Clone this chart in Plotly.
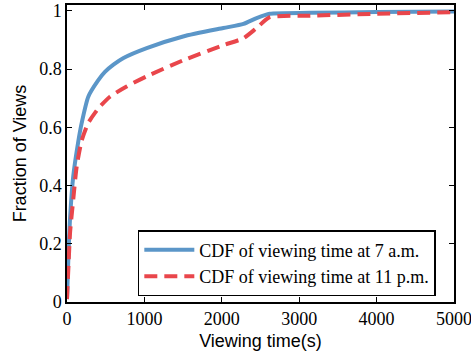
import plotly.graph_objects as go

# Data
blue_x = [0, 20, 40, 80, 145, 190, 275, 400, 490, 600, 730, 1030, 1500, 2020, 2280, 2450, 2620, 3140, 4000, 5000]
blue_y = [0.01, 0.17, 0.29, 0.43, 0.55, 0.615, 0.705, 0.76, 0.79, 0.815, 0.838, 0.872, 0.912, 0.941, 0.955, 0.975, 0.99, 0.993, 0.996, 0.998]

red_x = [0, 20, 40, 80, 125, 190, 275, 405, 555, 770, 1030, 1500, 2020, 2280, 2450, 2620, 3140, 4000, 5000]
red_y = [0.01, 0.13, 0.24, 0.35, 0.465, 0.555, 0.615, 0.665, 0.705, 0.74, 0.775, 0.83, 0.882, 0.906, 0.941, 0.978, 0.983, 0.99, 0.995]

series_names = ["CDF of viewing time at 7 a.m.", "CDF of viewing time at 11 p.m."]
x_ticks = [0, 1000, 2000, 3000, 4000, 5000]
y_ticks = [0, 0.2, 0.4, 0.6, 0.8, 1]
y_tick_labels = ["0", "0.2", "0.4", "0.6", "0.8", "1"]

fig = go.Figure()
fig.add_trace(go.Scatter(
    x=blue_x, y=blue_y, mode="lines", name=series_names[0],
    line=dict(color="#5b96c8", width=4, shape="spline", smoothing=0.6),
))
fig.add_trace(go.Scatter(
    x=red_x, y=red_y, mode="lines", name=series_names[1],
    line=dict(color="#e9464b", width=4, dash="13px,7px", shape="spline", smoothing=0.6),
))

serif = "Liberation Serif, Times New Roman, serif"
sans = "Liberation Sans, Arial, sans-serif"

fig.update_layout(
    width=471, height=358,
    margin=dict(l=67, r=17, t=5, b=56),
    paper_bgcolor="white", plot_bgcolor="white",
    showlegend=True,
    legend=dict(
        x=0.183, y=0.02, xanchor="left", yanchor="bottom",
        bgcolor="white", bordercolor="black", borderwidth=1.5,
        font=dict(family=serif, size=18, color="black"),
        itemwidth=50, tracegroupgap=0,
    ),
)
fig.update_xaxes(
    range=[0, 5000], tickvals=x_ticks, ticktext=[str(v) for v in x_ticks],
    showgrid=False, zeroline=False, automargin=False,
    showline=True, linecolor="black", linewidth=1.5, mirror="ticks",
    ticks="inside", ticklen=5, tickcolor="black", tickwidth=1,
    ticklabeloverflow="allow",
    tickfont=dict(family=serif, size=18, color="black"),
    title=dict(text="Viewing time(s)", font=dict(family=sans, size=18, color="black"), standoff=6),
)
fig.update_yaxes(
    range=[0, 1.02], tickvals=y_ticks, ticktext=y_tick_labels,
    showgrid=False, zeroline=False, automargin=False,
    showline=True, linecolor="black", linewidth=1.5, mirror="ticks",
    ticks="inside", ticklen=5, tickcolor="black", tickwidth=1,
    ticklabeloverflow="allow",
    tickfont=dict(family=serif, size=18, color="black"),
    title=dict(text="Fraction of Views", font=dict(family=sans, size=18, color="black"), standoff=8),
)

fig.write_html("out.html")
